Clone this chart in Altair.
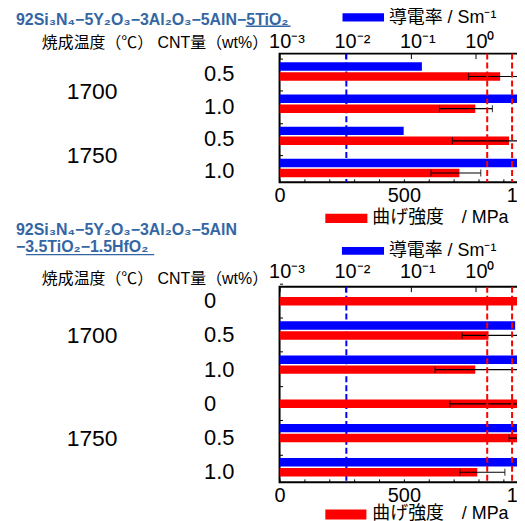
import json
import altair as alt
import pandas as pd

# ---------------- data ----------------
top_temps = ["1700", "1700", "1750", "1750"]
top_cnt = ["0.5", "1.0", "0.5", "1.0"]
top_cond = [0.15, 30.0, 0.079, 30.0]          # S/m
top_strength = [887, 787, 923, 723]           # MPa
top_err_lo = [760, 643, 695, 609]
top_err_hi = [1014, 856, 1151, 809]

bot_temps = ["1700", "1700", "1700", "1750", "1750", "1750"]
bot_cnt = ["0", "0.5", "1.0", "0", "0.5", "1.0"]
bot_cond = [None, 4.0, 30.0, None, 4.4, 30.0]
bot_strength = [1100, 840, 787, 1000, 1000, 795]
bot_err_lo = [1010, 734, 625, 685, 923, 725]
bot_err_hi = [1190, 975, 980, 1315, 1077, 906]

cond_ref = [0.0105]
strength_ref = [835, 935]

log_domain = [0.001, 10]
lin_domain = [0, 1052]
log_ticks = [0.001, 0.01, 0.1, 1]
log_tick_labels = ["10⁻³", "10⁻²", "10⁻¹", "10⁰"]
lin_ticks = [0, 100, 200, 300, 400, 500, 600, 700, 800, 900, 1000]
lin_label_ticks = [0, 500, 1000]

top_title = "92Si₃N₄−5Y₂O₃−3Al₂O₃−5AlN−5TiO₂"
bot_title_1 = "92Si₃N₄−5Y₂O₃−3Al₂O₃−5AlN"
bot_title_2 = "−3.5TiO₂−1.5HfO₂"
header = "焼成温度（℃） CNT量（wt%）"
cond_label = "導電率 / Sm⁻¹"
strength_label = "曲げ強度　/ MPa"

# ---------------- style ----------------
FONT = "Liberation Sans, Noto Sans CJK JP"
BLUE = "#0000ff"
RED = "#ff0000"
TITLE_COLOR = "#3466a3"
W = 263

lin_label_expr = ("indexof(" + json.dumps(lin_label_ticks) +
                  ", datum.value) >= 0 ? '' + datum.value : ''")


def one():
    return pd.DataFrame({"k": [0]})


def rect(x, x2, y, y2, color):
    return alt.Chart(one()).mark_rect(color=color).encode(
        x=alt.value(x), x2=alt.value(x2), y=alt.value(y), y2=alt.value(y2))


def txt(text, x, y, size, color="black", bold=False, baseline="middle"):
    return alt.Chart(one()).mark_text(
        align="left", baseline=baseline, fontSize=size, font=FONT, color=color,
        fontWeight="bold" if bold else "normal").encode(
        x=alt.value(x), y=alt.value(y), text=alt.value(text))


def uline(x, x2, y, color):
    return alt.Chart(one()).mark_rule(color=color, strokeWidth=1.3).encode(
        x=alt.value(x), x2=alt.value(x2), y=alt.value(y))


def panel(temps, cnts, cond, strength, lo, hi, H, y_range, off, cnt_dy,
          temp_mode, temp_dy, log_label_y, deco):
    rows = [f"{t}|{c}" for t, c in zip(temps, cnts)]
    y_axis = alt.Axis(orient="left", labels=False, domain=False, ticks=True, tickSize=3,
                      offset=-3, bandPosition=0, tickOffset=5, tickColor="black",
                      tickWidth=1, title=None, grid=False)
    Y = alt.Y("row:N", scale=alt.Scale(domain=rows, range=y_range, paddingInner=0,
                                       paddingOuter=0), axis=y_axis, title=None)
    YO = alt.YOffset("slot:N", scale=alt.Scale(domain=["cond", "str"], paddingInner=off[0],
                                                paddingOuter=off[1], align=off[2]))

    log_scale = alt.Scale(type="log", domain=log_domain, nice=False)
    log_axis = alt.Axis(orient="top", values=log_ticks, labels=False,
                        tickSize=5, offset=-5, tickColor="black", tickWidth=1, domain=False,
                        grid=False, title=None)
    lin_scale = alt.Scale(domain=lin_domain, nice=False, zero=False)
    lin_axis = alt.Axis(orient="bottom", values=lin_ticks, labelExpr=lin_label_expr,
                        labelFont=FONT, labelFontSize=20, labelColor="black", labelPadding=3,
                        tickSize=3.5, offset=-3.5, tickColor="black", tickWidth=1,
                        domain=False, grid=False, title=None, labelFlush=False,
                        labelOverlap=False)

    cond_df = pd.DataFrame({"row": rows, "cond": cond, "slot": "cond"}).dropna()
    str_df = pd.DataFrame({"row": rows, "strength": strength, "lo": lo, "hi": hi,
                           "slot": "str"})
    caps_df = pd.DataFrame({"row": rows + rows, "v": list(lo) + list(hi), "slot": "str"})
    log_lab_df = pd.DataFrame({"v": log_ticks, "label": log_tick_labels})

    blue_bars = alt.Chart(cond_df).transform_calculate(
        base=str(log_domain[0])
    ).mark_bar(color=BLUE, clip=True).encode(
        x=alt.X("cond:Q", scale=log_scale, axis=log_axis, stack=None),
        x2=alt.X2("base:Q"), y=Y, yOffset=YO)
    blue_ref = alt.Chart(pd.DataFrame({"v": cond_ref})).mark_rule(
        color=BLUE, strokeDash=[6, 3], strokeWidth=2, clip=True).encode(
        x=alt.X("v:Q", scale=log_scale, axis=log_axis))
    log_labels = alt.Chart(log_lab_df).mark_text(
        align="left", baseline="alphabetic", dx=-10.5, fontSize=20, font=FONT,
        color="black").encode(
        x=alt.X("v:Q", scale=log_scale, axis=log_axis), y=alt.value(log_label_y),
        text="label:N")
    cond_layer = alt.layer(blue_bars, blue_ref, log_labels)

    red_bars = alt.Chart(str_df).mark_bar(color=RED, clip=True).encode(
        x=alt.X("strength:Q", scale=lin_scale, axis=lin_axis), y=Y, yOffset=YO)
    err = alt.Chart(str_df).mark_rule(color="black", strokeWidth=1.2, clip=True).encode(
        x=alt.X("lo:Q", scale=lin_scale, axis=lin_axis), x2="hi:Q", y=Y, yOffset=YO)
    caps = alt.Chart(caps_df).mark_tick(color="black", thickness=1.2, size=7,
                                        clip=True).encode(
        x=alt.X("v:Q", scale=lin_scale, axis=lin_axis), y=Y, yOffset=YO)
    red_ref = alt.Chart(pd.DataFrame({"v": strength_ref})).mark_rule(
        color=RED, strokeDash=[6, 3], strokeWidth=2, clip=True).encode(
        x=alt.X("v:Q", scale=lin_scale, axis=lin_axis))
    str_layer = alt.layer(red_bars, err, caps, red_ref)

    cnt_df = pd.DataFrame({"row": rows, "label": cnts, "slot": "str"})
    cnt_text = alt.Chart(cnt_df).mark_text(
        align="left", baseline="middle", fontSize=22, font=FONT, color="black",
        dy=cnt_dy).encode(x=alt.value(-76), y=Y, yOffset=YO, text="label:N")

    groups = []
    for t in dict.fromkeys(temps):
        idx = [i for i, tt in enumerate(temps) if tt == t]
        a = idx[0] if temp_mode == "first" else idx[len(idx) // 2]
        groups.append({"row": rows[a], "label": t, "slot": "str"})
    temp_text = alt.Chart(pd.DataFrame(groups)).mark_text(
        align="left", baseline="middle", fontSize=23, font=FONT, color="black",
        dy=temp_dy).encode(x=alt.value(-214), y=Y, yOffset=YO, text="label:N")

    return alt.layer(cond_layer, str_layer, cnt_text, temp_text, *deco).resolve_scale(
        x="independent").properties(width=W, height=H)


top_deco = [
    txt(top_title, -265, -29, 16, TITLE_COLOR, True, "alphabetic"),
    uline(-34, 11, -27.5, TITLE_COLOR),
    txt(header, -239, -10.6, 16),
    rect(63.3, 105, -40.6, -32.3, BLUE),
    txt(cond_label, 110, -35.3, 18),
    rect(46, 88.3, 161, 170.4, RED),
    txt(strength_label, 93.3, 165.2, 18),
]
bot_deco = [
    txt(bot_title_1, -265, -52.3, 16, TITLE_COLOR, True, "alphabetic"),
    txt(bot_title_2, -265, -34.7, 16, TITLE_COLOR, True, "alphabetic"),
    uline(-255, -126, -32.3, TITLE_COLOR),
    txt(header, -239, -8, 16),
    rect(62.7, 105, -40, -32, BLUE),
    txt(cond_label, 110, -36, 18),
    rect(46, 87.3, 224, 234, RED),
    txt(strength_label, 93.3, 229, 18),
]

top = panel(top_temps, top_cnt, top_cond, top_strength, top_err_lo, top_err_hi,
            129.4, [0, 129.4], (0.15, 0.6925, 0.63), -2, "first", 15.2, -5.6, top_deco)
bottom = panel(bot_temps, bot_cnt, bot_cond, bot_strength, bot_err_lo, bot_err_hi,
               196.7, [-8.4, 198], (0.21, 0.683, 0.5), 0, "middle", 1, -8.7, bot_deco)

chart = alt.vconcat(top, bottom, spacing=104.3, bounds="flush").properties(
    padding={"left": 7, "top": -1.5, "right": -35.3, "bottom": -4}
).configure_view(stroke="black", strokeWidth=2)

chart.save("out.html", embed_options={"renderer": "svg", "actions": False})
